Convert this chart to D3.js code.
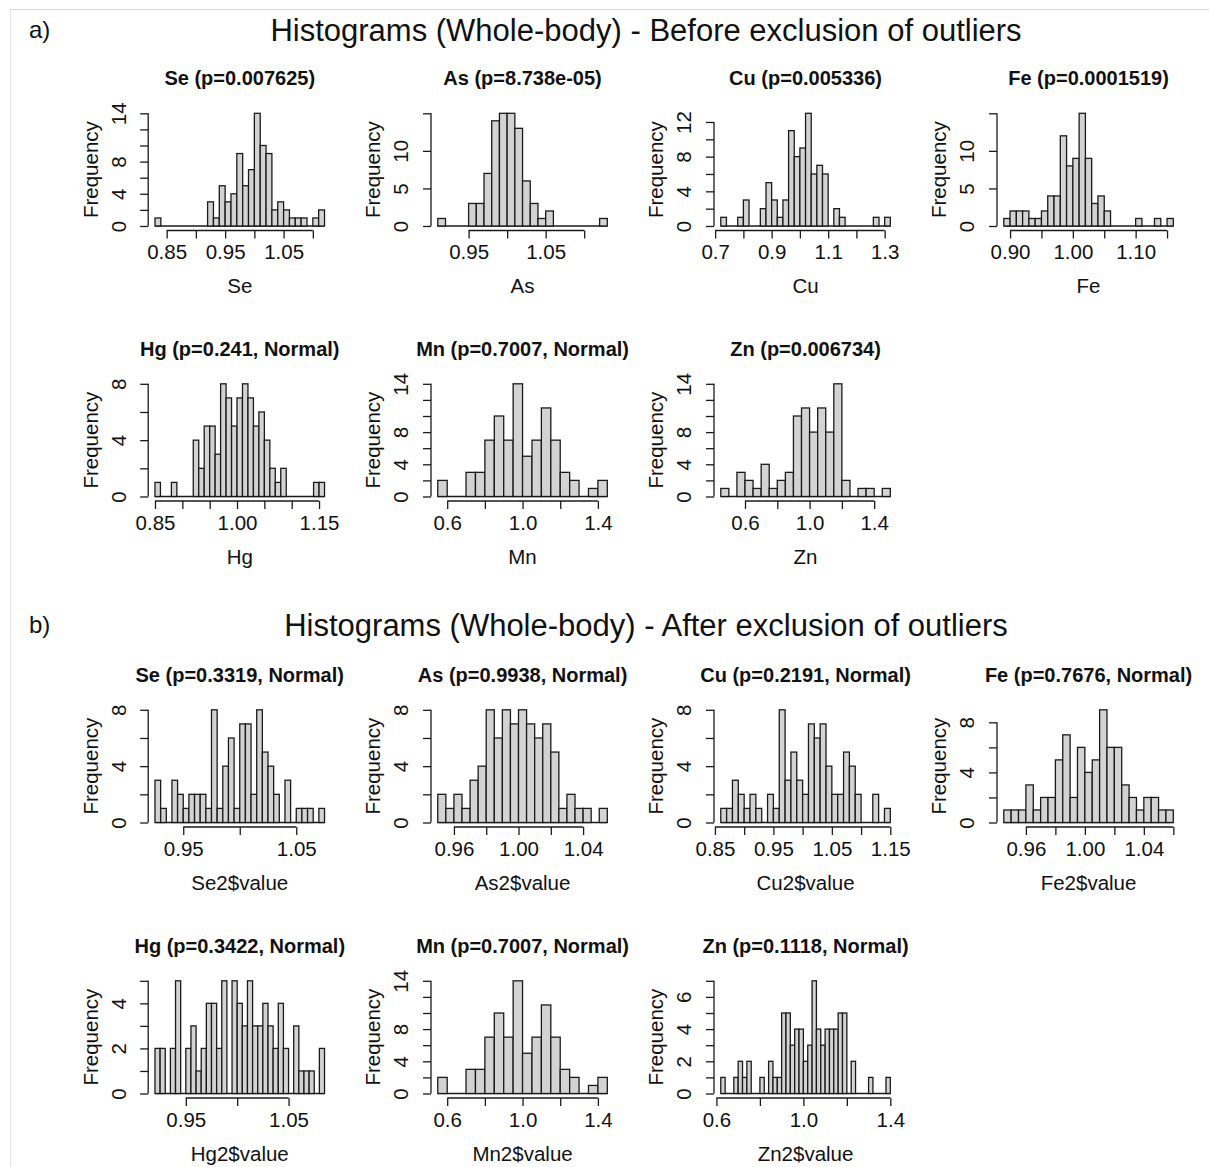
<!DOCTYPE html>
<html>
<head>
<meta charset="utf-8">
<script src="https://cdn.jsdelivr.net/npm/d3@7"></script>
<style>
  body { margin: 0; background: #fff; }
  svg { display: block; }
  text { font-family: "Liberation Sans", Arial, sans-serif; fill: #111; }
</style>
</head>
<body>
<svg id="chart" width="1209" height="1167"></svg>
<script>
// ---- bin counts (one value per bin, starting at the first break) ----
const seBefore = [1,0,0,0,0,0,0,0,0,3,1,5,3,4,9,5,7,14,10,9,2,3,2,1,1,1,0,1,2];
const asBefore = [1,0,0,0,3,3,7,14,15,15,13,6,3,1,2,0,0,0,0,0,0,1];
const cuBefore = [1,0,0,1,3,0,0,2,5,3,1,3,11,8,9,13,6,7,6,0,2,1,0,0,0,0,0,1,0,1];
const feBefore = [1,2,2,2,1,1,2,4,4,12,8,9,15,9,3,4,2,0,0,0,0,1,0,0,1,0,1];
const hgBefore = [1,0,0,1,0,0,0,4,2,5,5,3,8,7,5,7,8,7,5,6,4,2,1,2,0,0,0,0,0,1,1];
const mnBefore = [2,0,0,3,3,7,10,7,14,5,7,11,7,3,2,0,1,2];
const znBefore = [1,0,3,2,1,4,1,2,3,10,11,8,11,8,14,2,0,1,1,0,1];

const seAfter = [3,1,0,3,2,1,2,2,2,1,8,1,4,6,1,7,7,2,8,5,4,2,0,3,0,1,1,1,0,1];
const asAfter = [2,1,2,1,3,4,8,6,8,7,8,7,6,7,5,1,2,1,1,0,1];
const cuAfter = [1,1,3,2,1,2,1,0,2,1,8,3,5,3,2,7,6,7,4,2,2,5,4,2,0,0,2,0,1];
const feAfter = [1,1,1,3,1,2,2,5,7,2,6,4,5,9,6,6,3,2,1,2,2,1,1];
const hgAfter = [2,2,0,2,5,0,2,3,1,2,4,4,2,5,0,5,4,3,5,3,3,4,3,2,4,2,0,3,1,1,1,0,2];
const mnAfter = mnBefore;
const znAfter = [1,0,0,1,2,1,2,0,0,1,0,2,1,1,5,5,3,4,4,2,3,7,4,3,4,4,4,5,5,0,2,0,0,0,1,0,0,0,1];

// ---- headings ----
const figureTitles = [
  "Histograms (Whole-body) - Before exclusion of outliers",
  "Histograms (Whole-body) - After exclusion of outliers"
];
const figureTags = ["a)", "b)"];
const titlesBefore = ["Se (p=0.007625)", "As (p=8.738e-05)", "Cu (p=0.005336)", "Fe (p=0.0001519)",
                      "Hg (p=0.241, Normal)", "Mn (p=0.7007, Normal)", "Zn (p=0.006734)"];
const titlesAfter  = ["Se (p=0.3319, Normal)", "As (p=0.9938, Normal)", "Cu (p=0.2191, Normal)", "Fe (p=0.7676, Normal)",
                      "Hg (p=0.3422, Normal)", "Mn (p=0.7007, Normal)", "Zn (p=0.1118, Normal)"];
const labelsBefore = ["Se", "As", "Cu", "Fe", "Hg", "Mn", "Zn"];
const labelsAfter  = ["Se2$value", "As2$value", "Cu2$value", "Fe2$value", "Hg2$value", "Mn2$value", "Zn2$value"];

// ---- breaks: first break and bin width ----
const startsBefore = [0.83, 0.91, 0.72, 0.89, 0.85, 0.55, 0.45];
const widthsBefore = [0.01, 0.01, 0.02, 0.01, 0.01, 0.05, 0.05];
const startsAfter  = [0.925, 0.95, 0.86, 0.945, 0.92, 0.55, 0.62];
const widthsAfter  = [0.005, 0.005, 0.01, 0.005, 0.005, 0.05, 0.02];

// ---- x axis ticks ("" = tick without label) ----
const xTicksBefore = [
  [["0.85",0.85],["",0.90],["0.95",0.95],["",1.00],["1.05",1.05],["",1.10]],
  [["0.95",0.95],["",1.00],["1.05",1.05],["",1.10]],
  [["0.7",0.7],["",0.8],["0.9",0.9],["",1.0],["1.1",1.1],["",1.2],["1.3",1.3]],
  [["0.90",0.90],["",0.95],["1.00",1.00],["",1.05],["1.10",1.10],["",1.15]],
  [["0.85",0.85],["",0.90],["",0.95],["1.00",1.00],["",1.05],["",1.10],["1.15",1.15]],
  [["0.6",0.6],["",0.8],["1.0",1.0],["",1.2],["1.4",1.4]],
  [["0.6",0.6],["",0.8],["1.0",1.0],["",1.2],["1.4",1.4]]
];
const xTicksAfter = [
  [["0.95",0.95],["",1.00],["1.05",1.05]],
  [["0.96",0.96],["",0.98],["1.00",1.00],["",1.02],["1.04",1.04]],
  [["0.85",0.85],["",0.90],["0.95",0.95],["",1.00],["1.05",1.05],["",1.10],["1.15",1.15]],
  [["0.96",0.96],["",0.98],["1.00",1.00],["",1.02],["1.04",1.04],["",1.06]],
  [["0.95",0.95],["",1.00],["1.05",1.05]],
  [["0.6",0.6],["",0.8],["1.0",1.0],["",1.2],["1.4",1.4]],
  [["0.6",0.6],["",0.8],["1.0",1.0],["",1.2],["1.4",1.4]]
];

// ---- y axis: top tick, tick step, labelled values ----
const yAxisBefore = [[14,2,[0,4,8,14]], [15,5,[0,5,10]], [12,2,[0,4,8,12]], [15,5,[0,5,10]],
                     [8,2,[0,4,8]], [14,2,[0,4,8,14]], [14,2,[0,4,8,14]]];
const yAxisAfter  = [[8,2,[0,4,8]], [8,2,[0,4,8]], [8,2,[0,4,8]], [8,2,[0,4,8]],
                     [5,1,[0,2,4]], [14,2,[0,4,8,14]], [7,1,[0,2,4,6]]];

const countsBefore = [seBefore, asBefore, cuBefore, feBefore, hgBefore, mnBefore, znBefore];
const countsAfter  = [seAfter, asAfter, cuAfter, feAfter, hgAfter, mnAfter, znAfter];

// ---- layout ----
const colLeft = [148.2, 431, 714, 997];
const rowBottom = [230.5, 501, 827, 1098];
const plotW = 183.1, plotH = 121.7;
const figTitleY = [41, 636];
const fontAxis = 20.5, fontTitle = 20;
const ink = "#1a1a1a";

const svg = d3.select("#chart");

// light frame lines of the page
svg.append("line").attr("x1", 10).attr("x2", 1209).attr("y1", 9.5).attr("y2", 9.5)
  .attr("stroke", "#d9d9d9").attr("stroke-width", 1);
svg.append("line").attr("x1", 10.5).attr("x2", 10.5).attr("y1", 9).attr("y2", 1167)
  .attr("stroke", "#e3e3e3").attr("stroke-width", 1);

figureTitles.forEach((t, f) => {
  svg.append("text").attr("x", 646).attr("y", figTitleY[f]).attr("text-anchor", "middle")
    .attr("font-size", 31).text(t);
  svg.append("text").attr("x", 29).attr("y", figTitleY[f] - 3).attr("font-size", 24).text(figureTags[f]);
});

function drawPanel(f, i, counts, start, step, title, xLab, xTicks, yAx) {
  const row = f * 2 + (i < 4 ? 0 : 1);
  const col = i < 4 ? i : i - 4;
  const left = colLeft[col], bottom = rowBottom[row], top = bottom - plotH;
  const end = start + counts.length * step;
  const span = end - start;
  const maxC = d3.max(counts);

  const x = d3.scaleLinear().domain([start - 0.04 * span, end + 0.04 * span]).range([left, left + plotW]);
  const y = d3.scaleLinear().domain([-0.04 * maxC, 1.04 * maxC]).range([bottom, top]);

  const g = svg.append("g");

  // bars
  const bins = counts.map((c, k) => ({ x0: start + k * step, x1: start + (k + 1) * step, c }));
  g.append("line").attr("x1", x(start)).attr("x2", x(end)).attr("y1", y(0)).attr("y2", y(0))
    .attr("stroke", ink).attr("stroke-width", 1.3);
  g.selectAll("rect.bar").data(bins.filter(b => b.c > 0)).join("rect").attr("class", "bar")
    .attr("x", b => x(b.x0)).attr("width", b => x(b.x1) - x(b.x0))
    .attr("y", b => y(b.c)).attr("height", b => y(0) - y(b.c))
    .attr("fill", "#d3d3d3").attr("stroke", ink).attr("stroke-width", 1.3);

  // x axis
  const xVals = xTicks.map(t => t[1]);
  const xa = g.append("g").attr("transform", `translate(0,${bottom})`)
    .call(d3.axisBottom(x).tickValues(xVals).tickSize(8).tickSizeOuter(0)
      .tickFormat((d, k) => xTicks[k][0]));
  xa.attr("font-size", null).attr("font-family", null);
  xa.select(".domain").remove();
  xa.selectAll(".tick line").attr("stroke", ink).attr("stroke-width", 1.3);
  xa.selectAll(".tick text").attr("y", 21.5).attr("dy", "0.36em")
    .attr("font-size", fontAxis).attr("fill", ink);
  xa.append("line").attr("x1", x(xVals[0])).attr("x2", x(xVals[xVals.length - 1]))
    .attr("stroke", ink).attr("stroke-width", 1.3);

  // y axis
  const [yTop, yStep, yLabels] = yAx;
  const yVals = d3.range(0, yTop + yStep / 2, yStep);
  const ya = g.append("g").attr("transform", `translate(${left},0)`)
    .call(d3.axisLeft(y).tickValues(yVals).tickSize(8).tickSizeOuter(0)
      .tickFormat(d => yLabels.includes(d) ? String(d) : ""));
  ya.attr("font-size", null).attr("font-family", null);
  ya.select(".domain").remove();
  ya.selectAll(".tick line").attr("stroke", ink).attr("stroke-width", 1.3);
  ya.selectAll(".tick text").attr("x", 0).attr("y", 0).attr("dy", "0.36em")
    .attr("text-anchor", "middle").attr("transform", "translate(-30,0) rotate(-90)")
    .attr("font-size", fontAxis).attr("fill", ink);
  ya.append("line").attr("y1", y(0)).attr("y2", y(yTop))
    .attr("stroke", ink).attr("stroke-width", 1.3);

  // labels
  const cx = left + plotW / 2;
  g.append("text").attr("x", cx).attr("y", top - 31).attr("dy", "0.36em")
    .attr("text-anchor", "middle").attr("font-weight", "bold").attr("font-size", fontTitle).text(title);
  g.append("text").attr("x", cx).attr("y", bottom + 55.5).attr("dy", "0.36em")
    .attr("text-anchor", "middle").attr("font-size", fontAxis).text(xLab);
  g.append("text").attr("transform", `translate(${left - 58},${(top + bottom) / 2}) rotate(-90)`)
    .attr("dy", "0.36em").attr("text-anchor", "middle").attr("font-size", fontAxis).text("Frequency");
}

countsBefore.forEach((c, i) => drawPanel(0, i, c, startsBefore[i], widthsBefore[i],
  titlesBefore[i], labelsBefore[i], xTicksBefore[i], yAxisBefore[i]));
countsAfter.forEach((c, i) => drawPanel(1, i, c, startsAfter[i], widthsAfter[i],
  titlesAfter[i], labelsAfter[i], xTicksAfter[i], yAxisAfter[i]));
</script>
</body>
</html>
